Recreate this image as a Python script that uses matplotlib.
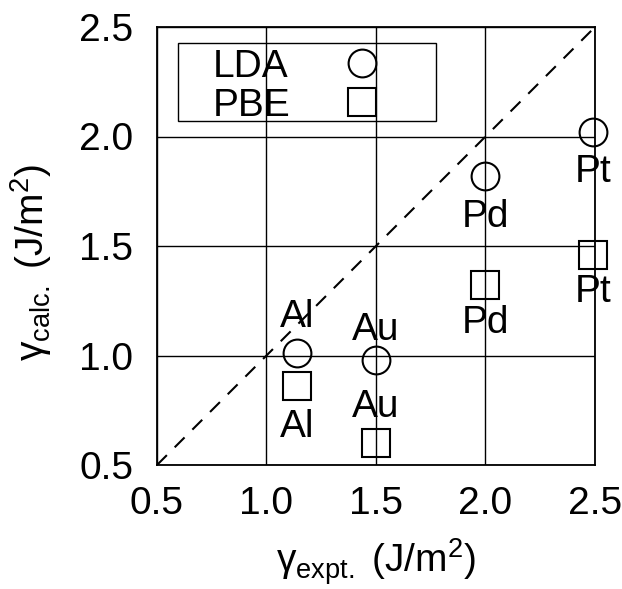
import numpy as np
import matplotlib
matplotlib.use("Agg")
import matplotlib.pyplot as plt
from matplotlib.patches import Rectangle

# surface energies, experiment vs. calculation (J/m^2)
metals = ["Al", "Au", "Pd", "Pt"]
gamma_expt = [1.14, 1.50, 2.00, 2.49]
gamma_lda = [1.01, 0.98, 1.82, 2.02]
gamma_pbe = [0.86, 0.60, 1.32, 1.46]

ticks = [0.5, 1.0, 1.5, 2.0, 2.5]

# label offsets (pixels, positive = up) for each metal name
lda_label_dy = [26, 20, -51, -50]
pbe_label_dy = [-51, 26, -48, -47]

plt.rcParams["font.family"] = ["Liberation Sans", "DejaVu Sans"]
plt.rcParams["mathtext.fontset"] = "custom"
plt.rcParams["mathtext.rm"] = "Liberation Sans"
plt.rcParams["mathtext.it"] = "Liberation Sans"
plt.rcParams["mathtext.default"] = "regular"

fs = 28
fig = plt.figure(figsize=(6.22, 5.89), dpi=100)
ax = fig.add_axes([157 / 622, 124 / 589, 438 / 622, 438 / 589])

ax.set_xlim(0.5, 2.5)
ax.set_ylim(0.5, 2.5)
ax.set_xticks(ticks)
ax.set_yticks(ticks)
ax.set_xticklabels([f"{t:.1f}" for t in ticks], fontsize=fs)
ax.set_yticklabels([f"{t:.1f}" for t in ticks], fontsize=fs)
ax.tick_params(axis="y", length=0, pad=17)
ax.tick_params(axis="x", length=0, pad=15)
ax.grid(True, color="black", linewidth=1.0)
ax.set_axisbelow(True)
for s in ax.spines.values():
    s.set_linewidth(1.3)

# y = x reference line
ax.plot([0.5, 2.5], [0.5, 2.5], color="black", linestyle=(0, (6.7, 5.3)), linewidth=1.5)

mk = dict(linestyle="none", markerfacecolor="none", markeredgecolor="black",
          markeredgewidth=1.5, markersize=20, clip_on=False)
ax.plot(gamma_expt, gamma_lda, marker="o", **mk)
ax.plot(gamma_expt, gamma_pbe, marker="s", **mk)

for name, x, yl, yp, dl, dp in zip(metals, gamma_expt, gamma_lda, gamma_pbe,
                                   lda_label_dy, pbe_label_dy):
    ax.annotate(name, (x, yl), xytext=(0, dl), textcoords="offset pixels",
                ha="center", va="baseline", fontsize=fs, annotation_clip=False)
    ax.annotate(name, (x, yp), xytext=(0, dp), textcoords="offset pixels",
                ha="center", va="baseline", fontsize=fs, annotation_clip=False)

# legend box, label first then marker
ax.add_patch(Rectangle((0.048, 0.785), 0.589, 0.1785, transform=ax.transAxes,
                       fill=False, edgecolor="black", linewidth=1.0, zorder=3))
ax.text(0.128, 0.8866, "LDA", transform=ax.transAxes, fontsize=fs,
        ha="left", va="baseline")
ax.text(0.128, 0.7975, "PBE", transform=ax.transAxes, fontsize=fs,
        ha="left", va="baseline")
ax.plot([0.468], [0.9185], marker="o", transform=ax.transAxes, **mk)
ax.plot([0.468], [0.8295], marker="s", transform=ax.transAxes, **mk)

ax.set_xlabel(r"$\gamma_{expt.}$ (J/m$^2$)", fontsize=fs)
ax.set_ylabel(r"$\gamma_{calc.}$ (J/m$^2$)", fontsize=fs)
ax.xaxis.set_label_coords(0.5, -0.163)
ax.yaxis.set_label_coords(-0.235, 0.463)

fig.savefig("out.png", dpi=100)
